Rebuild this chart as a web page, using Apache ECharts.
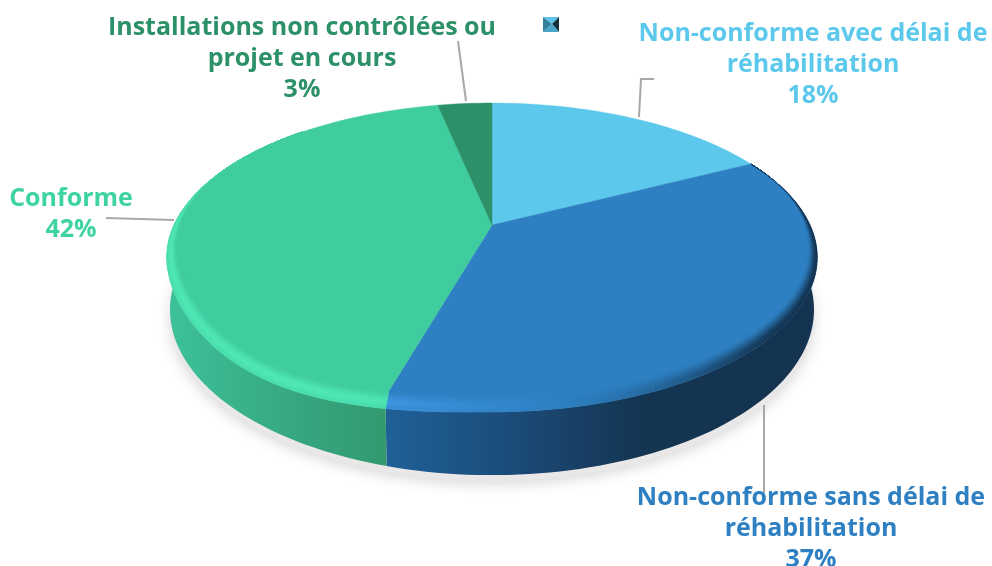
<!DOCTYPE html>
<html><head><meta charset="utf-8">
<style>html,body{margin:0;padding:0;background:#fff}#c{width:992px;height:566px}</style>
<script src="https://cdn.jsdelivr.net/npm/echarts@6/dist/echarts.min.js"></script>
</head><body><div id="c"></div>
<script>
const categories = ['Non-conforme avec délai de\nréhabilitation','Non-conforme sans délai de\nréhabilitation','Conforme','Installations non contrôlées ou\nprojet en cours'];
const values = [17.6, 36.7, 42.4, 3.3];

const faceColors = ['#5bc8ec','#2e80c2','#3fcc9f','#2c9168'];
const textColors = ['#5bc8ec','#2e80c2','#3fd3a3','#2c9168'];
const highlightColors = ['#5bc8ec','#4299e6','#50e8b6','#3bb585'];
const darkBlue = '#133350';
const wallStops = [
  null,
  [[387,'#1f6098'],[520,'#1b4a76'],[640,'#143552'],[820,'#133350']],
  [[165,'#3dc29a'],[300,'#36a680'],[387,'#33996f']],
  null
];

const P = {cx:492, cy:225, A:318, B:147.6, k:0.21, depth:50, bottomScale:0.99, warp:11.5};
const labelTops = [[813,18],[811,482],[71,183],[302,12]];
const lineH = 31;
const leaders = [
  [[654,79],[641,79],[639,117]],
  [[764,405],[764,493]],
  [[106,218],[174,220]],
  [[458,41],[466,101]]
];

const total = values.reduce((a,b)=>a+b,0);
const starts = []; values.reduce((s,v,i)=>{starts[i]=s;return s+v;},0);
const toAngle = v => v/total*Math.PI*2;
function smooth(a,b,x){const t=Math.min(1,Math.max(0,(x-a)/(b-a)));return t*t*(3-2*t);}
function proj(th){
  const u=Math.sin(th), v=-Math.cos(th), s=1/(1-P.k*v);
  return [P.cx+P.A*u*s, P.cy+P.B*v*s, v, u];
}
// top rim: the front-left of the bevel sags a little below a pure ellipse
function rim(th){
  const p=proj(th);
  let dy=0;
  if(p[3]<0 && p[2]>0) dy=P.warp*Math.sin(Math.PI*Math.min(1,Math.pow(-p[3]/0.95,1.5)));
  return [p[0],p[1]+dy,p[2]];
}
function inner(th){
  const p=rim(th), w=smooth(-0.6,0.1,p[2]);
  return [P.cx+(p[0]-P.cx)*(1-0.032*w), p[1]-9*(1+p[2])*w];
}
function bottom(th){
  const p=proj(th), s=1/(1-P.k*p[2]);
  return [P.cx+(p[0]-P.cx)*P.bottomScale, p[1]+P.depth*s];
}
function hex(c){return [1,3,5].map(i=>parseInt(c.substr(i,2),16));}
function mixHex(a,b,t){const x=hex(a),y=hex(b);return '#'+x.map((q,i)=>Math.round(q+(y[i]-q)*t).toString(16).padStart(2,'0')).join('');}
const sliceRange = i => [toAngle(starts[i]), toAngle(starts[i]+values[i])];
const STEP = Math.PI/120;
function samples(a,b){const n=Math.max(2,Math.ceil((b-a)/STEP));const o=[];for(let j=0;j<=n;j++)o.push(a+(b-a)*j/n);return o;}
const rad = d => d*Math.PI/180;

function renderShadow(params,api){
  const pts=samples(0,Math.PI*2).map(t=>{const b=bottom(t);return [b[0],b[1]+6];});
  return {type:'polygon',shape:{points:pts},style:{fill:'#e9e7e7',shadowBlur:14,shadowColor:'rgba(0,0,0,0.16)',shadowOffsetY:3},silent:true};
}
function renderWall(params,api){
  const i=params.dataIndex;
  if(!wallStops[i]) return null;
  let [a,b]=sliceRange(i);
  a=Math.max(a,rad(66)); b=Math.min(b,rad(295));
  const ss=samples(a,b);
  const top=ss.map(t=>{const p=rim(t);return [p[0],p[1]];});
  const bot=ss.map(bottom).reverse();
  const st=wallStops[i], x0=st[0][0], x1=st[st.length-1][0];
  const grad=new echarts.graphic.LinearGradient(x0,0,x1,0,st.map(s=>({offset:(s[0]-x0)/(x1-x0),color:s[1]})),true);
  return {type:'polygon',shape:{points:top.concat(bot)},style:{fill:grad},silent:true};
}
function renderFace(params,api){
  const i=params.dataIndex, [a,b]=sliceRange(i);
  const edge=samples(a,b).map(t=>{const p=rim(t);return [p[0],p[1]];});
  const pts=[[P.cx,P.cy],inner(a)].concat(edge,[inner(b)]);
  return {type:'polygon',shape:{points:pts},style:{fill:faceColors[i],stroke:faceColors[i],lineWidth:0.4},silent:true};
}
function renderBevel(params,api){
  const i=params.dataIndex, [a,b]=sliceRange(i), ss=samples(a,b), ch=[];
  const R=7;
  for(let j=0;j<ss.length-1;j++){
    const t0=ss[j],t1=ss[j+1],deg=(t0+t1)/2*180/Math.PI;
    const hi=smooth(165,205,deg)*(1-smooth(262,320,deg));
    const dk=i===1?1-smooth(125,175,deg):0;
    if(hi<0.01&&dk<0.01)continue;
    for(let r=0;r<R;r++){
      const s0=r/R,s1=(r+1)/R,m=(s0+s1)/2;
      const p=(t,s)=>{const o=rim(t),n=inner(t);return [n[0]+(o[0]-n[0])*s,n[1]+(o[1]-n[1])*s];};
      let col=faceColors[i];
      if(hi>0){
        const prof=m<0.65?smooth(0,0.65,m):1-0.35*smooth(0.65,1,m);
        col=mixHex(col,highlightColors[i],hi*prof);
      }
      if(dk>0) col=mixHex(col,darkBlue,dk*smooth(0.1,0.95,m));
      const A0=p(t0,s0),A1=p(t1,s0),B1=p(t1,s1),B0=p(t0,s1);
      ch.push({type:'polygon',shape:{points:[A0,A1,B1,B0]},style:{fill:col,stroke:col,lineWidth:0.6},silent:true});
    }
  }
  return {type:'group',children:ch};
}
const data=values.map((v,i)=>({value:v,name:categories[i]}));
const g=[];
leaders.forEach(l=>g.push({type:'polyline',shape:{points:l},z:50,style:{stroke:'#a8a8a8',lineWidth:2,fill:null}}));
categories.forEach((c,i)=>{
  g.push({type:'text',z:60,x:labelTops[i][0],y:labelTops[i][1],style:{
    text:c+'\n'+Math.round(values[i]/total*100)+'%',
    fill:textColors[i],font:'bold 25px "Open Sans", sans-serif',align:'center',verticalAlign:'top',lineHeight:lineH
  }});
});
// small legend-key artefact
const ik={x:543,y:17,w:16,h:15,mx:552,my:24};
g.push({type:'polygon',z:60,shape:{points:[[ik.x,ik.y],[ik.x+ik.w,ik.y],[ik.mx,ik.my]]},style:{fill:'#5cc4ec'}});
g.push({type:'polygon',z:60,shape:{points:[[ik.x,ik.y],[ik.mx,ik.my],[ik.x,ik.y+ik.h]]},style:{fill:'#33809c'}});
g.push({type:'polygon',z:60,shape:{points:[[ik.x+ik.w,ik.y],[ik.x+ik.w,ik.y+ik.h],[ik.mx,ik.my]]},style:{fill:'#14303f'}});
g.push({type:'polygon',z:60,shape:{points:[[ik.x,ik.y+ik.h],[ik.mx,ik.my],[ik.x+ik.w,ik.y+ik.h]]},style:{fill:'#4aa3c8'}});

const chart=echarts.init(document.getElementById('c'),null,{renderer:'canvas'});
chart.setOption({
  animation:false,
  backgroundColor:'#fff',
  graphic:g,
  series:[
    {type:'custom',coordinateSystem:'none',renderItem:renderShadow,data:[total],z:1,silent:true},
    {type:'custom',coordinateSystem:'none',renderItem:renderWall,data,z:2,silent:true},
    {type:'custom',coordinateSystem:'none',renderItem:renderFace,data,z:3,silent:true},
    {type:'custom',coordinateSystem:'none',renderItem:renderBevel,data,z:4,silent:true}
  ]
});
</script></body></html>
